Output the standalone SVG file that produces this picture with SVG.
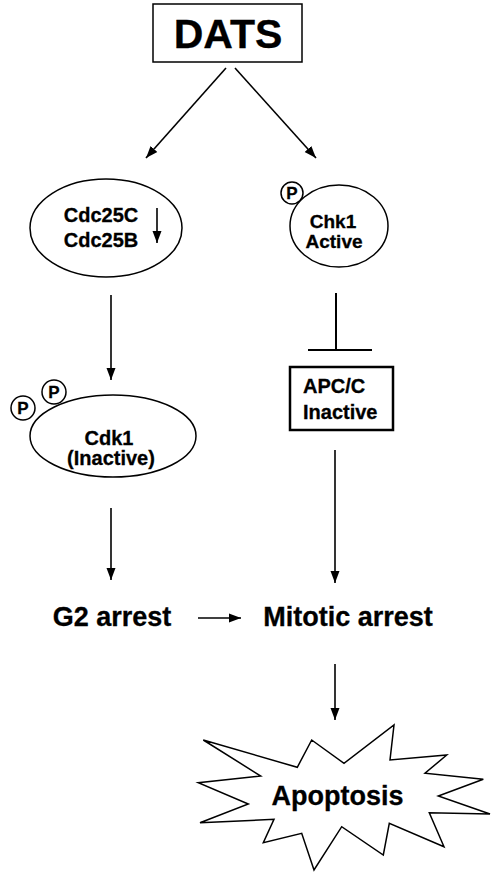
<svg xmlns="http://www.w3.org/2000/svg" width="501" height="882" viewBox="0 0 501 882">
<defs>
<marker id="ah" markerWidth="12" markerHeight="12" viewBox="0 0 12 12" refX="12" refY="6" orient="auto" markerUnits="userSpaceOnUse">
<path d="M0,1.5 L12,6 L0,10.5 Z" fill="#000"/>
</marker>
</defs>
<style>
text{font-family:"Liberation Sans",Arial,sans-serif;font-weight:bold;fill:#000;stroke:#000;stroke-width:0.3;text-anchor:middle}
.shape{fill:#fff;stroke:#000;stroke-width:1.5}
.conn{stroke:#000;stroke-width:1.6;fill:none}
.t19{font-size:20px}
.p{font-size:17px}
.big{font-size:27px}
</style>
<rect width="501" height="882" fill="#fff"/>
<g id="connectors">
<line class="conn" x1="226" y1="68" x2="146" y2="158" marker-end="url(#ah)"/>
<line class="conn" x1="235" y1="68" x2="316" y2="158" marker-end="url(#ah)"/>
<line class="conn" x1="111" y1="295" x2="111" y2="380" marker-end="url(#ah)"/>
<line class="conn" x1="111" y1="508" x2="111" y2="580" marker-end="url(#ah)"/>
<line class="conn" x1="336" y1="293" x2="336" y2="350" style="stroke-width:2"/>
<line class="conn" x1="308" y1="350" x2="372" y2="350" style="stroke-width:2.2"/>
<line class="conn" x1="335" y1="450" x2="335" y2="583" marker-end="url(#ah)"/>
<line class="conn" x1="198" y1="618" x2="241" y2="618" marker-end="url(#ah)"/>
<line class="conn" x1="335" y1="664" x2="335" y2="720" marker-end="url(#ah)"/>
</g>
<g id="dats">
<rect class="shape" x="153" y="4" width="149" height="58"/>
<text x="228" y="48" style="font-size:41px">DATS</text>
</g>
<g id="cdc25">
<ellipse class="shape" cx="106" cy="228" rx="76" ry="49"/>
<text class="t19" x="101" y="222">Cdc25C</text>
<text class="t19" x="101" y="247">Cdc25B</text>
<line class="conn" x1="157" y1="208" x2="157" y2="243" marker-end="url(#ah)"/>
</g>
<g id="chk1">
<ellipse class="shape" cx="339" cy="226" rx="49" ry="41"/>
<circle class="shape" cx="292" cy="193" r="11"/>
<text class="p" x="292" y="199">P</text>
<text x="333" y="228" style="font-size:19px">Chk1</text>
<text x="334" y="248" style="font-size:19px">Active</text>
</g>
<g id="cdk1">
<ellipse class="shape" cx="113" cy="436" rx="83" ry="41"/>
<circle class="shape" cx="23" cy="408" r="12"/>
<text class="p" x="23" y="414">P</text>
<circle class="shape" cx="54" cy="392" r="12"/>
<text class="p" x="54" y="398">P</text>
<text class="t19" x="109" y="445">Cdk1</text>
<text class="t19" x="111" y="465">(Inactive)</text>
</g>
<g id="apcc">
<rect x="290" y="367" width="103" height="63" fill="#fff" stroke="#000" stroke-width="2.5"/>
<text class="t19" x="303" y="393" style="text-anchor:start">APC/C</text>
<text class="t19" x="303" y="419" style="text-anchor:start">Inactive</text>
</g>
<g id="g2">
<text class="big" x="112" y="626">G2 arrest</text>
</g>
<g id="mitotic">
<text class="big" x="348" y="626">Mitotic arrest</text>
</g>
<g id="apoptosis">
<polygon class="shape" points="203.3,740 297.3,767.3 311.7,740 344,763.3 394,725 390,760 446.7,755 425,773.3 483.3,779.3 438.3,796 490,814 429.3,812.7 444,846.7 389.3,823.3 383.3,855 341.7,826.7 314,870 301.7,833.3 263.3,842.7 274,819.3 200,822.7 248.3,804 198.3,782.7 260.7,776"/>
<text x="337.5" y="805" style="font-size:27px">Apoptosis</text>
</g>
</svg>
